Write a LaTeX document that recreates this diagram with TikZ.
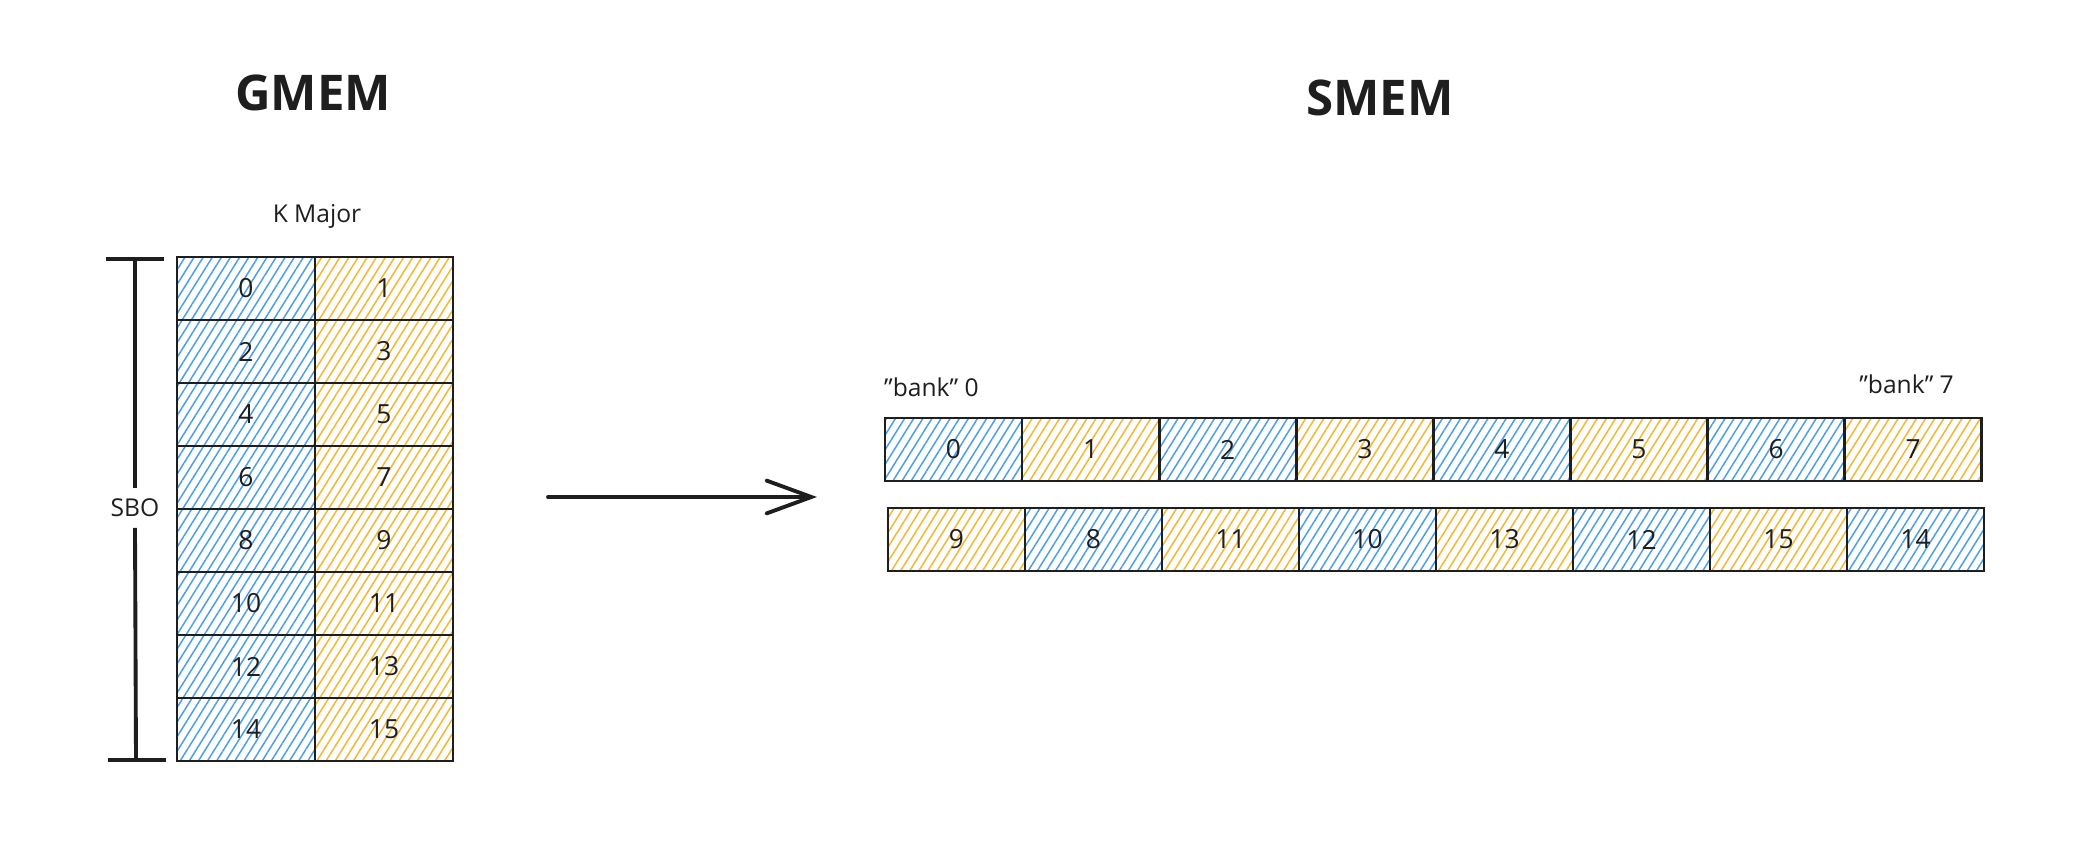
\documentclass[tikz,border=0pt]{standalone}
\usepackage{fontspec}
\setmainfont{Open Sans}
\usetikzlibrary{patterns.meta,arrows.meta}
\definecolor{ink}{HTML}{1E1E1E}
\definecolor{hblue}{HTML}{4A9EEA}
\definecolor{horange}{HTML}{F5B630}
\tikzset{
  cell/.style={draw=ink, line width=1.5pt, minimum width=2.74cm, minimum height=1.26cm,
    inner sep=0pt, text=ink, font=\fontsize{15}{17}\selectfont},
  bcell/.style={cell, pattern={Lines[angle=58,distance=4.4pt,line width=0.85pt]}, pattern color=hblue},
  ocell/.style={cell, pattern={Lines[angle=58,distance=4.4pt,line width=0.85pt]}, pattern color=horange},
  title/.style={text=ink, font=\fontsize{28}{32}\selectfont\bfseries},
  label/.style={text=ink, font=\fontsize{14}{16}\selectfont},
  bracket/.style={draw=ink, line width=2.2pt},
  bigarrow/.style={draw=ink, line width=2.2pt, line cap=round, -{Straight Barb[length=0.9cm,width=0.66cm,line cap=round]}}
}
\begin{document}
\begin{tikzpicture}[x=0.02cm,y=-0.02cm]
\useasboundingbox (0,0) rectangle (2097,845);
% titles
\node[title] (gmem) at (313,93) {GMEM};
\node[title] (smem) at (1380,98) {SMEM};
\node[label] (kmaj) at (317,216) {K Major};
% GMEM grid
\foreach \i in {0,...,7} {
  \pgfmathtruncatemacro{\a}{2*\i}
  \pgfmathtruncatemacro{\b}{2*\i+1}
  \node[bcell, minimum width=2.76cm] (g\a) at (246,{288.5+63*\i}) {\a};
  \node[ocell, minimum width=2.76cm] (g\b) at (384,{288.5+63*\i}) {\b};
}
% SBO bracket
\node[label, inner sep=6pt] (sbo) at (135,508) {SBO};
\coordinate (btl) at (106,259);
\coordinate (btr) at (164,259);
\coordinate (bt) at (135,259);
\coordinate (bbl) at (108,760);
\coordinate (bbr) at (166,760);
\coordinate (bb) at (136,760);
\draw[bracket] (btl) -- (btr);
\draw[bracket] (bbl) -- (bbr);
\draw[bracket] (bt) -- (sbo.north);
\draw[bracket] (sbo.south) -- (bb);
% arrow
\coordinate (as) at (548,497);
\coordinate (ae) at (817,497);
\draw[bigarrow] (as) -- (ae);
% SMEM row 1
\foreach \i/\c in {0/bcell,1/ocell,2/bcell,3/ocell,4/bcell,5/ocell,6/bcell,7/ocell} {
  \node[\c] (s\i) at ({953.5+137.1*\i},449.5) {\i};
}
% SMEM row 2
\foreach \k/\v/\c in {0/9/ocell,1/8/bcell,2/11/ocell,3/10/bcell,4/13/ocell,5/12/bcell,6/15/ocell,7/14/bcell} {
  \node[\c] (t\v) at ({956.5+137*\k},539.5) {\v};
}
% bank labels
\node[label, anchor=west] (bank0) at (878,387) {\symbol{34}bank\symbol{34} 0};
\node[label, anchor=east] (bank7) at (1960,384) {\symbol{34}bank\symbol{34} 7};
\end{tikzpicture}
\end{document}
